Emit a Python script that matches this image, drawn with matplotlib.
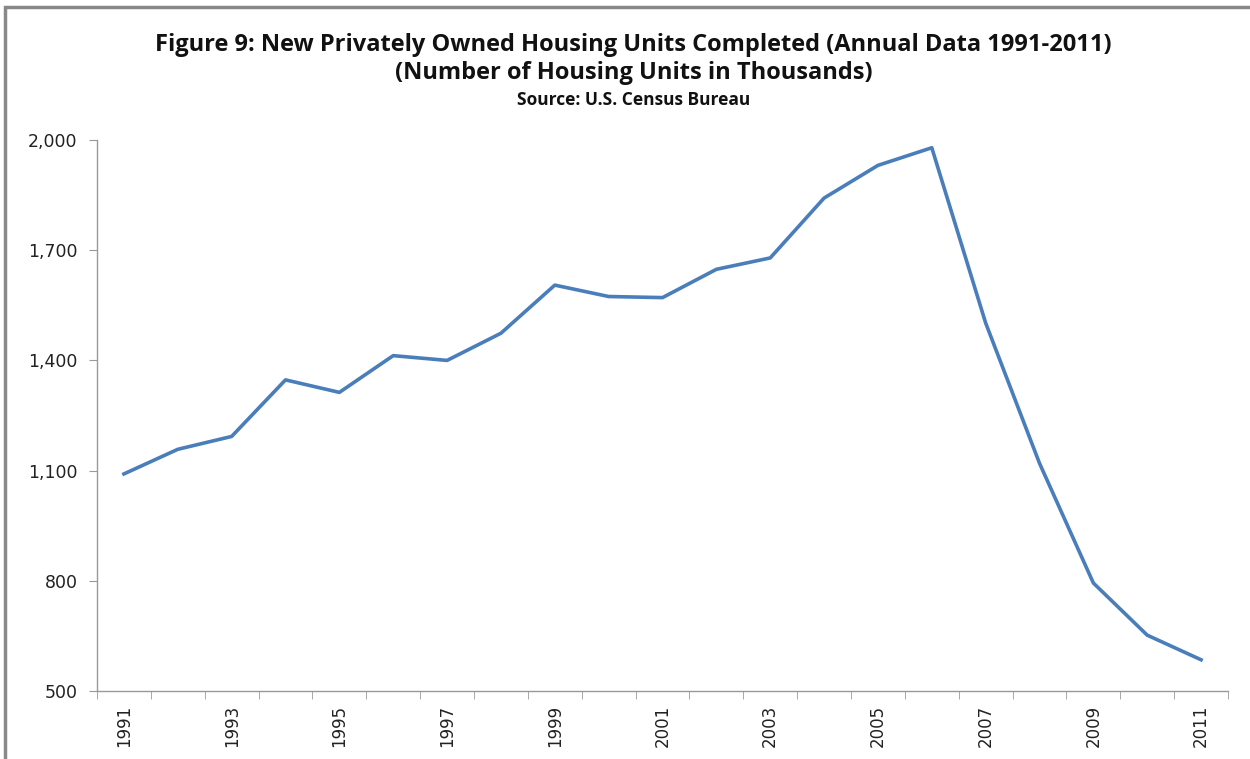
import numpy as np
import matplotlib.pyplot as plt
from matplotlib.patches import Rectangle
from matplotlib.ticker import FuncFormatter

# Datos (miles de unidades)
years = list(range(1991, 2012))
completed = [1091, 1158, 1193, 1347, 1313, 1413, 1400, 1474, 1605, 1574,
             1571, 1648, 1679, 1842, 1931, 1979, 1502, 1120, 794, 652, 585]
yticks = [500, 800, 1100, 1400, 1700, 2000]

plt.rcParams['font.family'] = ['Liberation Sans Narrow', 'Open Sans', 'DejaVu Sans']

fig = plt.figure(figsize=(12.5, 7.59), dpi=100)
ax = fig.add_axes([0.0776, 0.0896, 0.9048, 0.7259])

x = np.arange(len(years))
ax.plot(x, completed, color='#4A7EBB', linewidth=2.6, solid_joinstyle='round')

ax.set_xlim(-0.5, len(years) - 0.5)
ax.set_ylim(500, 2000)

# Etiquetas de años cada dos, marcas entre categorías
ax.set_xticks(x[::2])
ax.set_xticklabels([str(y) for y in years[::2]], rotation=90, fontsize=12,
                   family='DejaVu Sans', color='#222222')
ax.tick_params(axis='x', which='major', length=0, pad=10)
ax.set_xticks(np.arange(-0.5, len(years), 1), minor=True)
ax.tick_params(axis='x', which='minor', length=6, color='#999999', direction='out')

ax.set_yticks(yticks)
ax.yaxis.set_major_formatter(FuncFormatter(lambda v, p: f'{int(v):,}'))
ax.tick_params(axis='y', length=6, color='#999999', labelsize=12.5, pad=8,
               labelcolor='#222222')
for lbl in ax.get_yticklabels():
    lbl.set_family('DejaVu Sans')

for s in ['top', 'right']:
    ax.spines[s].set_visible(False)
for s in ['left', 'bottom']:
    ax.spines[s].set_color('#999999')
    ax.spines[s].set_linewidth(1)

# Títulos
fig.text(0.507, 0.941, 'Figure 9: New Privately Owned Housing Units Completed (Annual Data 1991-2011)',
         ha='center', va='center', fontsize=17, fontweight='bold', color='#111111')
fig.text(0.507, 0.904, '(Number of Housing Units in Thousands)',
         ha='center', va='center', fontsize=17, fontweight='bold', color='#111111')
fig.text(0.507, 0.868, 'Source: U.S. Census Bureau',
         ha='center', va='center', fontsize=12.5, fontweight='bold', color='#111111')

# Marco
fig.patches.append(Rectangle((0.004, -0.01), 1.05, 1.0 - 0.0092 + 0.01,
                             transform=fig.transFigure, fill=False,
                             edgecolor='#888888', linewidth=2.5))

plt.savefig('out.png', dpi=100)
